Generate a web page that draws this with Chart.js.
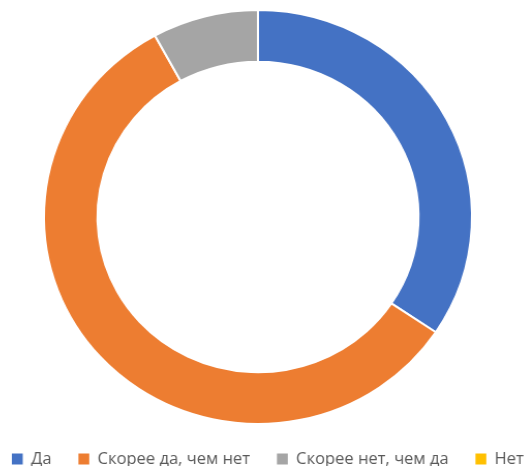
<!DOCTYPE html>
<html>
<head>
<meta charset="utf-8">
<script src="https://cdn.jsdelivr.net/npm/chart.js@4.4.0/dist/chart.umd.min.js"></script>
<style>
  html, body { margin: 0; padding: 0; overflow: hidden; background: #fff; }
  /* the ring in the picture is a little wider than tall */
  #wrap { position: absolute; left: -15px; top: 0; width: 600px; height: 480px; transform: scaleX(1.034); transform-origin: 0 0; }
</style>
</head>
<body>
<div id="wrap"><canvas id="answersChart"></canvas></div>
<script>
const answerLabels = ['Да', 'Скорее да, чем нет', 'Скорее нет, чем да', 'Нет'];
const answerCounts = [43, 72, 10, 0];
const answerColors = ['#4472C4', '#ED7D31', '#A5A5A5', '#FFC000'];

new Chart(document.getElementById('answersChart'), {
  type: 'doughnut',
  data: {
    labels: answerLabels,
    datasets: [{
      data: answerCounts,
      backgroundColor: answerColors,
      borderColor: '#ffffff',
      borderWidth: 2
    }]
  },
  options: {
    responsive: true,
    maintainAspectRatio: false,
    animation: false,
    cutout: '75%',
    layout: { padding: { top: 9, bottom: 3, left: 0, right: 0 } },
    plugins: {
      tooltip: { enabled: false },
      // blank title on the right: pushes the ring left, legend keeps the full width
      title: { display: true, position: 'right', fullSize: false, text: ' ', padding: 30, font: { size: 10 } },
      legend: {
        position: 'bottom',
        align: 'start',
        labels: {
          boxWidth: 10.5,
          boxHeight: 11,
          padding: 26,
          color: '#595959',
          font: { family: 'Open Sans', size: 16 },
          // no white outline on the legend squares
          generateLabels: chart => Chart.overrides.doughnut.plugins.legend.labels
            .generateLabels(chart)
            .map(item => ({ ...item, lineWidth: 0 }))
        }
      }
    }
  }
});
</script>
</body>
</html>
